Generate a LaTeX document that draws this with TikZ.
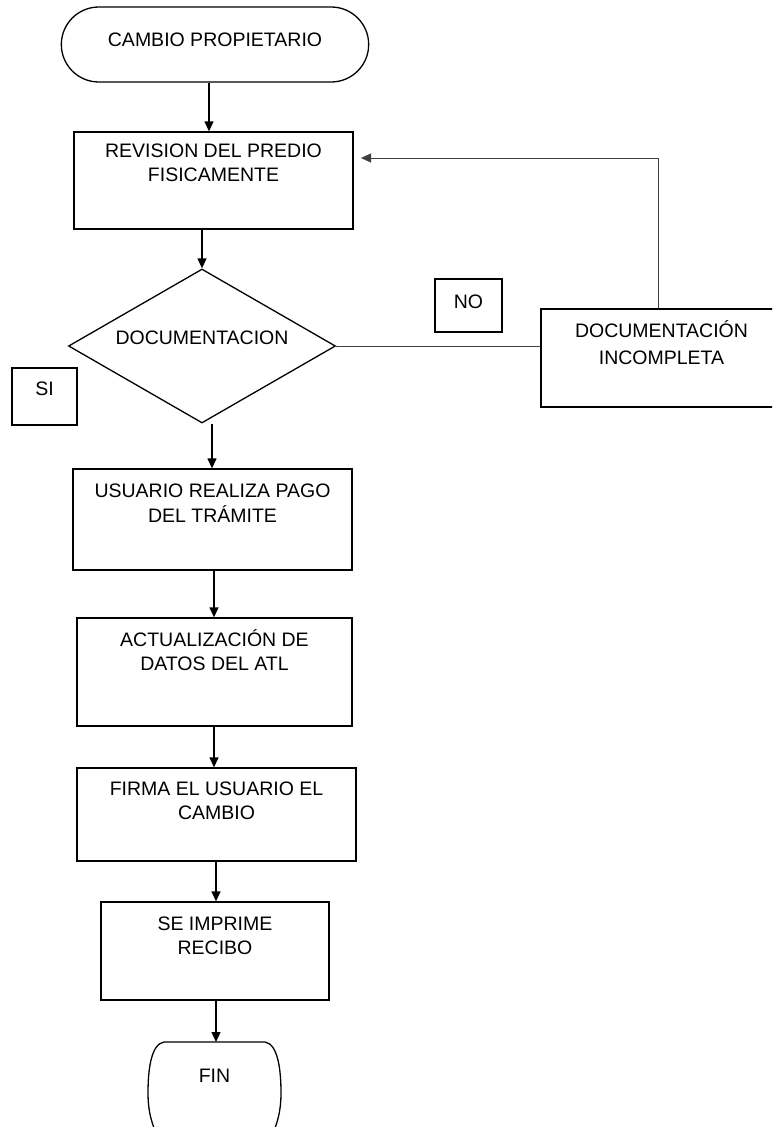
\documentclass[tikz,border=0pt]{standalone}
\usepackage{fontspec}
\setmainfont{Liberation Sans}
\usetikzlibrary{shapes.geometric,shapes.misc,arrows.meta}
\newcommand{\bxtxt}[4]{\parbox[c][#2][t]{#1}{\centering\vspace*{#3}\strut #4\par}}
\begin{document}
\begin{tikzpicture}[x=1pt,y=-1pt,
  font=\fontsize{19.5}{24}\selectfont,
  bx/.style={draw, line width=1.3pt, inner sep=0pt, rectangle},
  arr/.style={line width=1.3pt, -{Triangle[length=10pt,width=9pt]}},
  thinline/.style={line width=0.8pt, draw=black!75},
  outline/.style={line width=1.3pt},
]
\useasboundingbox (0,0) rectangle (772,1127);
\clip (0,0) rectangle (772,1127);

\node (term) [draw, outline, rounded rectangle, minimum width=314pt, minimum height=75pt, text height=14pt, text depth=10pt] at (215,44.5) {CAMBIO PROPIETARIO};

\node (revision) [bx] at (213.5,180.5) {\bxtxt{279pt}{97pt}{8.2pt}{REVISION DEL PREDIO\\FISICAMENTE}};

\node (diamond) [draw, outline, diamond, shape aspect=1.73, inner sep=0pt, minimum width=267pt, minimum height=154pt, text height=14pt, text depth=18pt] at (202,346) {DOCUMENTACION};

\node (si) [bx] at (44.5,396.5) {\bxtxt{65pt}{57pt}{10.2pt}{SI}};
\node (no) [bx] at (468.5,305.5) {\bxtxt{67pt}{53pt}{12.2pt}{NO}};
\node (docinc) [bx] at (661.5,358) {\bxtxt{241pt}{98pt}{11.2pt}{DOCUMENTACIÓN\\[3pt]INCOMPLETA}};

\node (usuario) [bx] at (212.5,519.5) {\bxtxt{279pt}{101pt}{11.2pt}{USUARIO REALIZA PAGO\\DEL TRÁMITE}};
\node (actual) [bx] at (214.5,672) {\bxtxt{275pt}{108pt}{11.2pt}{ACTUALIZACIÓN DE\\DATOS DEL ATL}};
\node (firma) [bx] at (216.5,814.5) {\bxtxt{279pt}{93pt}{10.2pt}{FIRMA EL USUARIO EL\\CAMBIO}};
\node (recibo) [bx] at (215,951) {\bxtxt{228pt}{98pt}{11.2pt}{SE IMPRIME\\RECIBO}};
\node (fin) [inner sep=0pt, anchor=north] at (214.5,1042) {\bxtxt{133pt}{90pt}{23.2pt}{FIN}};

% FIN outline (cut off at the bottom edge)
\draw[outline] (164,1042) -- (265,1042) .. controls (278,1044) and (281,1070) .. (281,1093) .. controls (281,1112) and (277,1125) .. (270,1140);
\draw[outline] (164,1042) .. controls (151,1044) and (148,1070) .. (148,1093) .. controls (148,1112) and (152,1125) .. (159,1140);

% connectors
\draw[arr] ([xshift=-6pt]term.south) -- ([xshift=-6pt]term.south |- revision.north);
\draw[arr] (revision.south -| diamond.north) -- (diamond.north);
\draw[arr] ([xshift=10pt]diamond.south) -- ([xshift=10pt]diamond.south |- usuario.north);
\draw[arr] ([xshift=1.5pt]usuario.south) -- ([xshift=1.5pt]usuario.south |- actual.north);
\draw[arr] ([xshift=-0.5pt]actual.south) -- ([xshift=-0.5pt]actual.south |- firma.north);
\draw[arr] ([xshift=-0.5pt]firma.south) -- ([xshift=-0.5pt]firma.south |- recibo.north);
\draw[arr] ([xshift=1pt]recibo.south) -- ([xshift=1pt]recibo.south |- fin.north);

\coordinate (fb) at (658,158);
\coordinate (fe) at (361,158);
\draw[thinline, -{Triangle[length=10pt,width=9pt]}] (docinc.north -| fb) -- (fb) -- (fe);
\draw[thinline] (diamond.east) -- (diamond.east -| docinc.west);
\end{tikzpicture}
\end{document}
